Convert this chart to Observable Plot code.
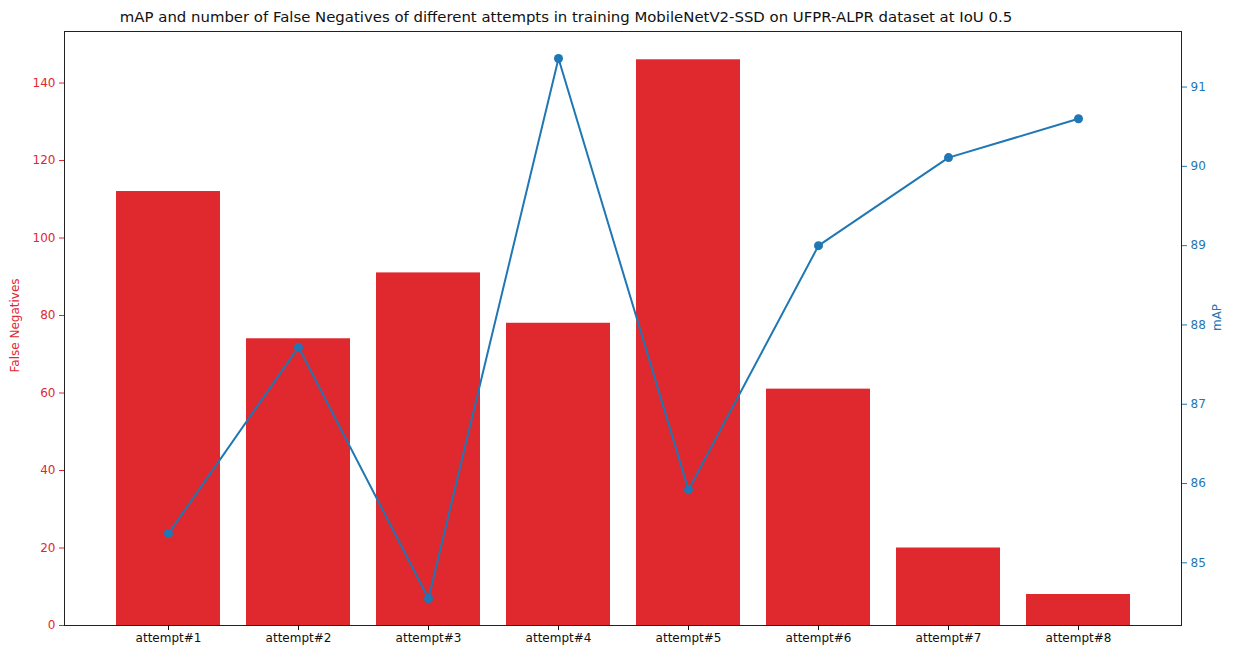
<!DOCTYPE html>
<html>
<head>
<meta charset="utf-8">
<script src="https://cdn.jsdelivr.net/npm/d3@7"></script>
<script src="https://cdn.jsdelivr.net/npm/@observablehq/plot@0.6"></script>
<style>
  html, body { margin: 0; padding: 0; background: #fff; }
  body { width: 1234px; height: 652px; overflow: hidden; font-family: "DejaVu Sans", sans-serif; }
  #title { height: 31px; width: 1234px; position: relative; }
  #title span { position: absolute; left: 566px; top: 8px; transform: translateX(-50%); white-space: nowrap; font-size: 14.9px; color: #111; }
</style>
</head>
<body>
<div id="title"><span>mAP and number of False Negatives of different attempts in training MobileNetV2-SSD on UFPR-ALPR dataset at IoU 0.5</span></div>
<div id="chart"></div>
<script>
const attempts = ["attempt#1","attempt#2","attempt#3","attempt#4","attempt#5","attempt#6","attempt#7","attempt#8"];
const falseNegatives = [112, 74, 91, 78, 146, 61, 20, 8];
const mAP = [85.37, 87.72, 84.55, 91.36, 85.92, 89.0, 90.11, 90.60];
const fnTicks = [0, 20, 40, 60, 80, 100, 120, 140];
const mapTicks = [85, 86, 87, 88, 89, 90, 91];

const red = "#e0282f";
const blue = "#1f77b4";

// matplotlib-style 5% margins
const fnDomain = [0, d3.max(falseNegatives) * 1.05];
const mapMin = d3.min(mAP), mapMax = d3.max(mAP), mapPad = (mapMax - mapMin) * 0.05;
const mapDomain = [mapMin - mapPad, mapMax + mapPad];
const toFN = v => (v - mapDomain[0]) / (mapDomain[1] - mapDomain[0]) * fnDomain[1];
const fromFN = v => v / fnDomain[1] * (mapDomain[1] - mapDomain[0]) + mapDomain[0];

const bars = attempts.map((a, i) => ({attempt: a, fn: falseNegatives[i]}));
const line = attempts.map((a, i) => ({attempt: a, map: mAP[i], y: toFN(mAP[i])}));

const chart = Plot.plot({
  width: 1234,
  height: 621,
  marginLeft: 64,
  marginRight: 53,
  marginTop: 0,
  marginBottom: 27,
  style: {fontFamily: "DejaVu Sans, sans-serif", fontSize: "12px", background: "#fff"},
  x: {type: "band", domain: attempts, paddingInner: 0.2, paddingOuter: 0.39, label: null},
  y: {domain: fnDomain, label: null},
  marks: [
    Plot.barY(bars, {x: "attempt", y: "fn", fill: red}),
    Plot.line(line, {x: "attempt", y: "y", stroke: blue, strokeWidth: 2}),
    Plot.dot(line, {x: "attempt", y: "y", fill: blue, r: 4.5}),
    Plot.frame({stroke: "#222", strokeWidth: 1}),
    Plot.axisX({tickSize: 5, tickPadding: 3, fontSize: 12, color: "#111", label: null}),
    Plot.axisY({anchor: "left", ticks: fnTicks, tickSize: 5, tickPadding: 4, color: red, fill: red, label: null}),
    Plot.axisY({anchor: "right", ticks: mapTicks.map(toFN), tickFormat: v => d3.format("d")(Math.round(fromFN(v))), tickSize: 5, tickPadding: 4, color: blue, fill: blue, label: null}),
    Plot.text(["False Negatives"], {frameAnchor: "left", textAnchor: "middle", dx: -49, dy: -3, rotate: -90, fill: red, fontSize: 12}),
    Plot.text(["mAP"], {frameAnchor: "right", textAnchor: "middle", dx: 36, dy: -11, rotate: -90, fill: blue, fontSize: 12})
  ]
});
document.getElementById("chart").appendChild(chart);
</script>
</body>
</html>
